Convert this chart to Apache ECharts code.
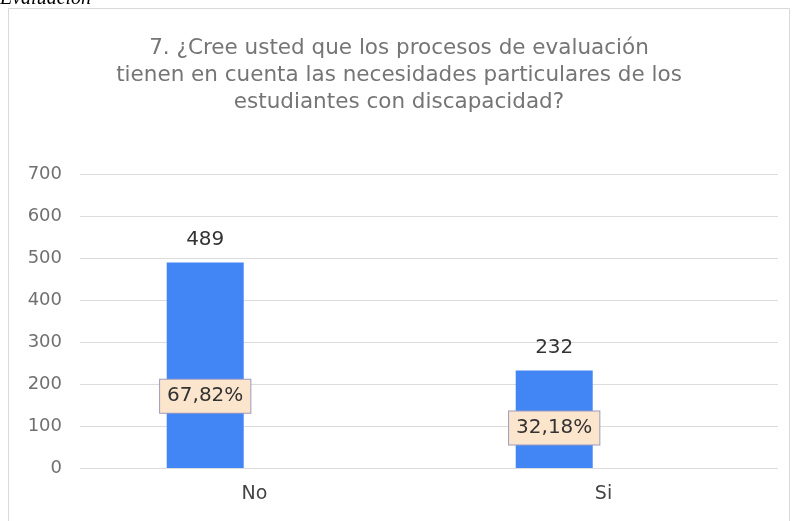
<!DOCTYPE html>
<html><head><meta charset="utf-8">
<script src="https://cdn.jsdelivr.net/npm/echarts@6/dist/echarts.min.js"></script>
<style>html,body{margin:0;padding:0;background:#fff}#c{width:798px;height:521px}</style>
</head><body><div id="c"></div>
<script>
var categories = ['No', 'Si'];
var counts = [489, 232];
var percents = ['67,82%', '32,18%'];
var pctLabelAt = [171, 95];
var yTicks = [0, 100, 200, 300, 400, 500, 600, 700];

var FONT = '"DejaVu Sans", sans-serif';
var chart = echarts.init(document.getElementById('c'));
chart.setOption({
  animation: false,
  backgroundColor: '#fff',
  graphic: [
    {type:'rect', shape:{x:8.5,y:8.5,width:781,height:530}, style:{fill:'none', stroke:'#d9d9d9', lineWidth:1}},
    {type:'text', left:0, top:-11, style:{text:'Evaluación', font:'italic 20px "Liberation Serif"', fill:'#000'}}
  ],
  title: {
    text: '7. ¿Cree usted que los procesos de evaluación\ntienen en cuenta las necesidades particulares de los\nestudiantes con discapacidad?',
    left: 'center', top: 30,
    textStyle: {fontFamily:FONT, fontSize:21.5, fontWeight:'normal', color:'#757575', lineHeight:27}
  },
  grid: {left:80, right:20, top:174, bottom:53},
  xAxis: {
    type:'category', data: categories,
    axisLine:{show:false}, axisTick:{show:false},
    axisLabel:{fontFamily:FONT, fontSize:19, color:'#444', margin:17}
  },
  yAxis: {
    type:'value', min: yTicks[0], max: yTicks[yTicks.length-1], interval: 100,
    axisLine:{show:false}, axisTick:{show:false},
    splitLine:{lineStyle:{color:'#dcdcdc'}},
    axisLabel:{fontFamily:FONT, fontSize:18, color:'#707070', margin:18}
  },
  series: [
    {
      type:'bar', data: counts, barWidth:77, barGap:'28%',
      itemStyle:{color:'#4285f4'},
      label:{show:true, position:'top', distance:13, fontFamily:FONT, fontSize:20, color:'#333'},
      markPoint: {
        symbol:'circle', symbolSize:0,
        data: categories.map(function(c,i){ return {coord:[c, pctLabelAt[i]], value: percents[i]}; }),
        label:{show:true, position:'inside', formatter:'{c}', fontFamily:FONT, fontSize:20, color:'#333',
          backgroundColor:'#fce5cd', borderColor:'#9b9bbf', borderWidth:1, padding:[7,7,6,7]}
      }
    },
    {type:'bar', data:['-','-'], barWidth:77, itemStyle:{color:'transparent'}}
  ]
});
</script></body></html>
